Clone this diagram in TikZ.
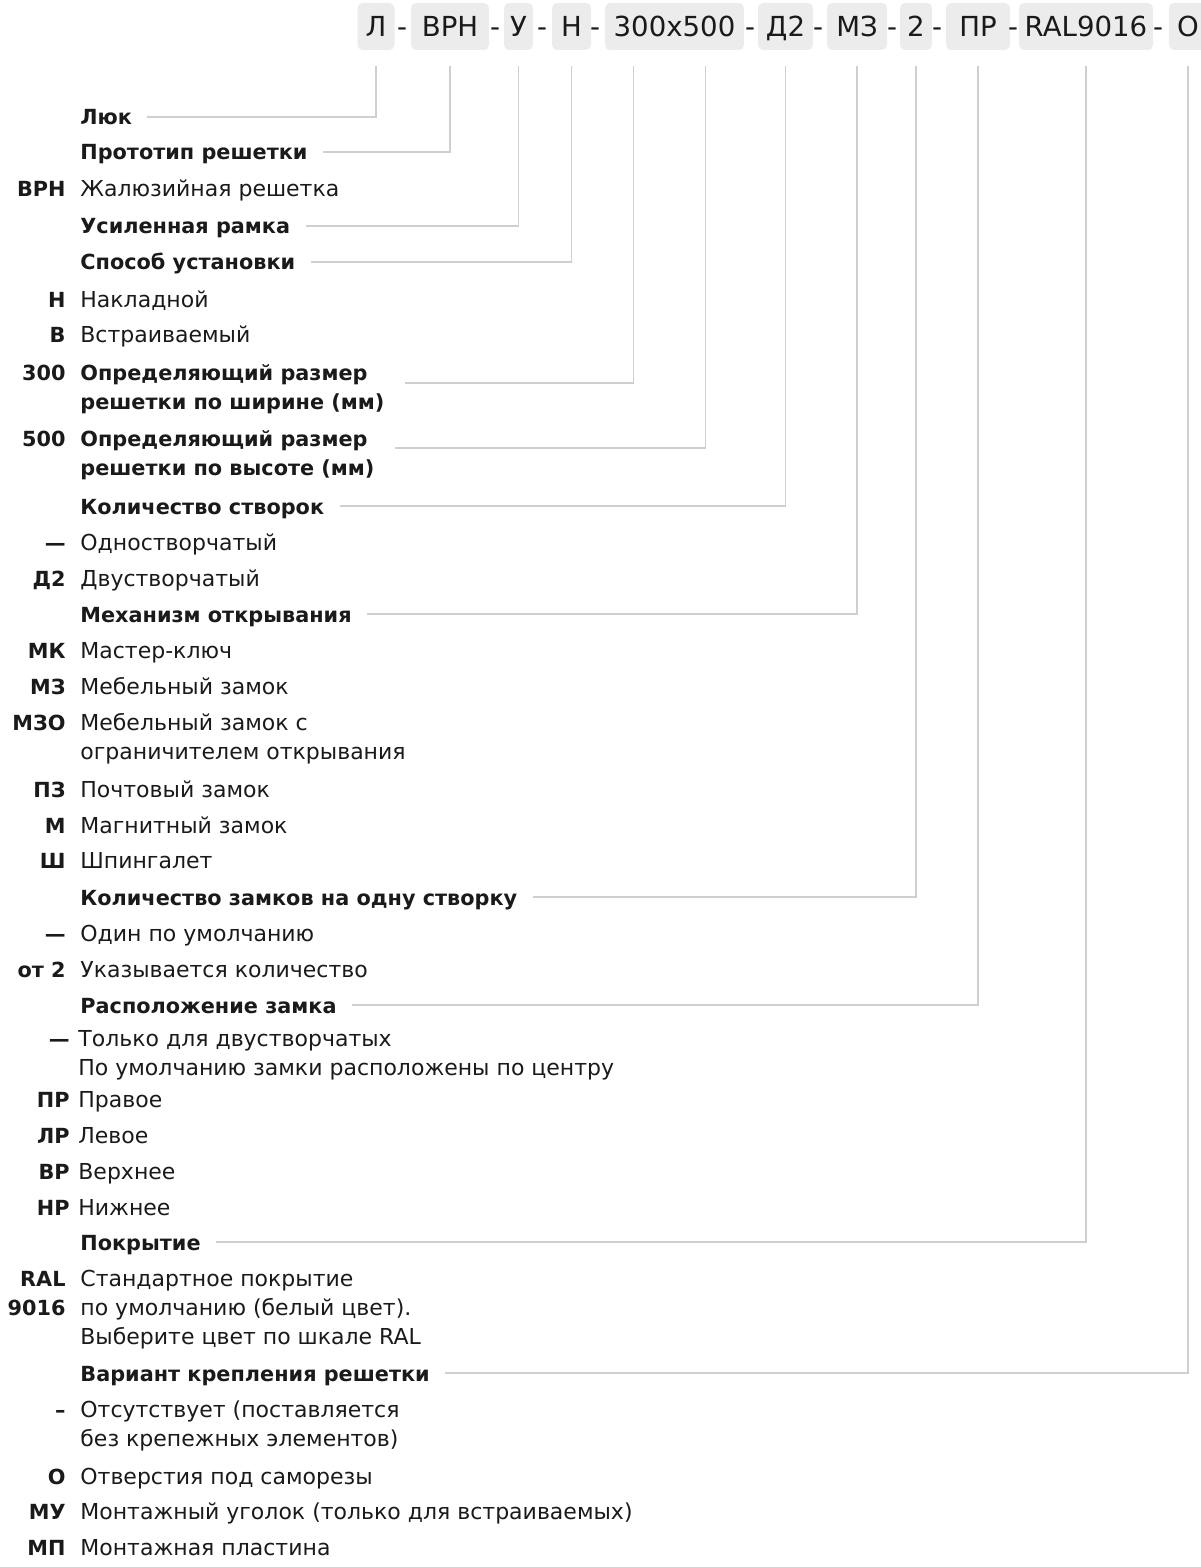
\documentclass[tikz,border=0pt]{standalone}
\usepackage{fontspec}
\setmainfont{DejaVu Sans}
\usepackage{xcolor}
\usepackage{tikz}

\definecolor{boxgray}{HTML}{ECECEC}
\definecolor{leadgray}{HTML}{CFCFCF}
\definecolor{ink}{HTML}{1A1A1A}

\tikzset{
  codebox/.style={fill=boxgray, rounded corners=2.5pt, minimum height=23.5pt,
    inner xsep=0pt, text height=10pt, text depth=0pt, font=\fontsize{13.8}{16}\selectfont, text=ink},
  sep/.style={anchor=base, font=\fontsize{13.8}{16}\selectfont, text=ink, inner sep=0pt},
  head/.style={anchor=base west, inner sep=0pt, font=\fontsize{10.4}{12}\selectfont\bfseries, text=ink},
  desc/.style={anchor=base west, inner sep=0pt, font=\fontsize{11}{13}\selectfont, text=ink},
  code/.style={anchor=base east, inner sep=0pt, font=\fontsize{10.4}{12}\selectfont\bfseries, text=ink},
  lead/.style={draw=leadgray, line width=0.75pt, shorten <=7.5pt, shorten >=8pt}
}

\begin{document}
\begin{tikzpicture}[x=0.5pt,y=-0.5pt]
\useasboundingbox (0,0) rectangle (1200,1567);

% marking boxes
\node[codebox, minimum width=18.5pt] (bL) at (376,26.5) {Л};
\node[codebox, minimum width=39pt] (bVRN) at (450,26.5) {ВРН};
\node[codebox, minimum width=14.5pt] (bU) at (518.5,26.5) {У};
\node[codebox, minimum width=19.5pt] (bN) at (571.5,26.5) {Н};
\node[codebox, minimum width=69.5pt] (bSize) at (674.5,26.5) {300x500};
\node[codebox, minimum width=27.5pt] (bD) at (785.5,26.5) {Д2};
\node[codebox, minimum width=30pt] (bMZ) at (857,26.5) {МЗ};
\node[codebox, minimum width=16pt] (bTwo) at (916,26.5) {2};
\node[codebox, minimum width=32pt] (bPR) at (978,26.5) {ПР};
\node[codebox, minimum width=67pt] (bRAL) at (1086,26.5) {RAL9016};
\node[codebox, minimum width=19pt] (bO) at (1188,26.5) {О};

\foreach \x in {402,495,542,595,750,818,892,937,1013,1158}
  \node[sep] at (\x,37) {-};

% list
\node[head] (tLuk) at (80,125) {Люк};
\node[head] (tProto) at (80,160) {Прототип решетки};
\node[code] at (66,197) {ВРН};
\node[desc] at (80,197) {Жалюзийная решетка};
\node[head] (tRamka) at (80,234) {Усиленная рамка};
\node[head] (tUst) at (80,270) {Способ установки};
\node[code] at (66,307) {Н};
\node[desc] at (80,307) {Накладной};
\node[code] at (66,343) {В};
\node[desc] at (80,343) {Встраиваемый};
\node[code] at (66,380) {300};
\node[head] at (80,380) {Определяющий размер};
\node[head] (tWidth) at (80,409) {решетки по ширине (мм)};
\node[code] at (66,446) {500};
\node[head] at (80,446) {Определяющий размер};
\node[head] (tHeight) at (80,475) {решетки по высоте (мм)};
\node[head] (tStv) at (80,514) {Количество створок};
\node[code] at (66,550) {—};
\node[desc] at (80,550) {Одностворчатый};
\node[code] at (66,586) {Д2};
\node[desc] at (80,586) {Двустворчатый};
\node[head] (tMech) at (80,622) {Механизм открывания};
\node[code] at (66,658) {МК};
\node[desc] at (80,658) {Мастер-ключ};
\node[code] at (66,694) {МЗ};
\node[desc] at (80,694) {Мебельный замок};
\node[code] at (66,730) {МЗО};
\node[desc] at (80,730) {Мебельный замок с};
\node[desc] at (80,759) {ограничителем открывания};
\node[code] at (66,797) {ПЗ};
\node[desc] at (80,797) {Почтовый замок};
\node[code] at (66,833) {М};
\node[desc] at (80,833) {Магнитный замок};
\node[code] at (66,868) {Ш};
\node[desc] at (80,868) {Шпингалет};
\node[head] (tZamki) at (80,905) {Количество замков на одну створку};
\node[code] at (66,941) {—};
\node[desc] at (80,941) {Один по умолчанию};
\node[code] at (66,977) {от 2};
\node[desc] at (80,977) {Указывается количество};
\node[head] (tRaspol) at (80,1013) {Расположение замка};
\node[code] at (70,1046) {—};
\node[desc] at (78,1046) {Только для двустворчатых};
\node[desc] at (78,1075) {По умолчанию замки расположены по центру};
\node[code] at (70,1107) {ПР};
\node[desc] at (78,1107) {Правое};
\node[code] at (70,1143) {ЛР};
\node[desc] at (78,1143) {Левое};
\node[code] at (70,1179) {ВР};
\node[desc] at (78,1179) {Верхнее};
\node[code] at (70,1215) {НР};
\node[desc] at (78,1215) {Нижнее};
\node[head] (tPokr) at (80,1250) {Покрытие};
\node[code] at (66,1286) {RAL};
\node[code] at (66,1315) {9016};
\node[desc] at (80,1286) {Стандартное покрытие};
\node[desc] at (80,1315) {по умолчанию (белый цвет).};
\node[desc] at (80,1344) {Выберите цвет по шкале RAL};
\node[head] (tKrep) at (80,1381) {Вариант крепления решетки};
\node[code] at (66,1417) {–};
\node[desc] at (80,1417) {Отсутствует (поставляется};
\node[desc] at (80,1446) {без крепежных элементов)};
\node[code] at (66,1484) {О};
\node[desc] at (80,1484) {Отверстия под саморезы};
\node[code] at (66,1519) {МУ};
\node[desc] at (80,1519) {Монтажный уголок (только для встраиваемых)};
\node[code] at (66,1555) {МП};
\node[desc] at (80,1555) {Монтажная пластина};

% leader lines
\draw[lead] ([yshift=4pt]tLuk.base east) -| (bL.south);
\draw[lead] ([yshift=4pt]tProto.base east) -| (bVRN.south);
\draw[lead] ([yshift=4pt]tRamka.base east) -| (bU.south);
\draw[lead] ([yshift=4pt]tUst.base east) -| (bN.south);
\draw[lead, shorten <=10pt] ([yshift=13pt]tWidth.base east) -| ([xshift=-20.5pt]bSize.south);
\draw[lead, shorten <=10pt] ([yshift=13.5pt]tHeight.base east) -| ([xshift=15.5pt]bSize.south);
\draw[lead] ([yshift=4pt]tStv.base east) -| (bD.south);
\draw[lead] ([yshift=4pt]tMech.base east) -| (bMZ.south);
\draw[lead] ([yshift=4pt]tZamki.base east) -| (bTwo.south);
\draw[lead] ([yshift=4pt]tRaspol.base east) -| (bPR.south);
\draw[lead] ([yshift=4pt]tPokr.base east) -| (bRAL.south);
\draw[lead] ([yshift=4pt]tKrep.base east) -| (bO.south);

\end{tikzpicture}
\end{document}
